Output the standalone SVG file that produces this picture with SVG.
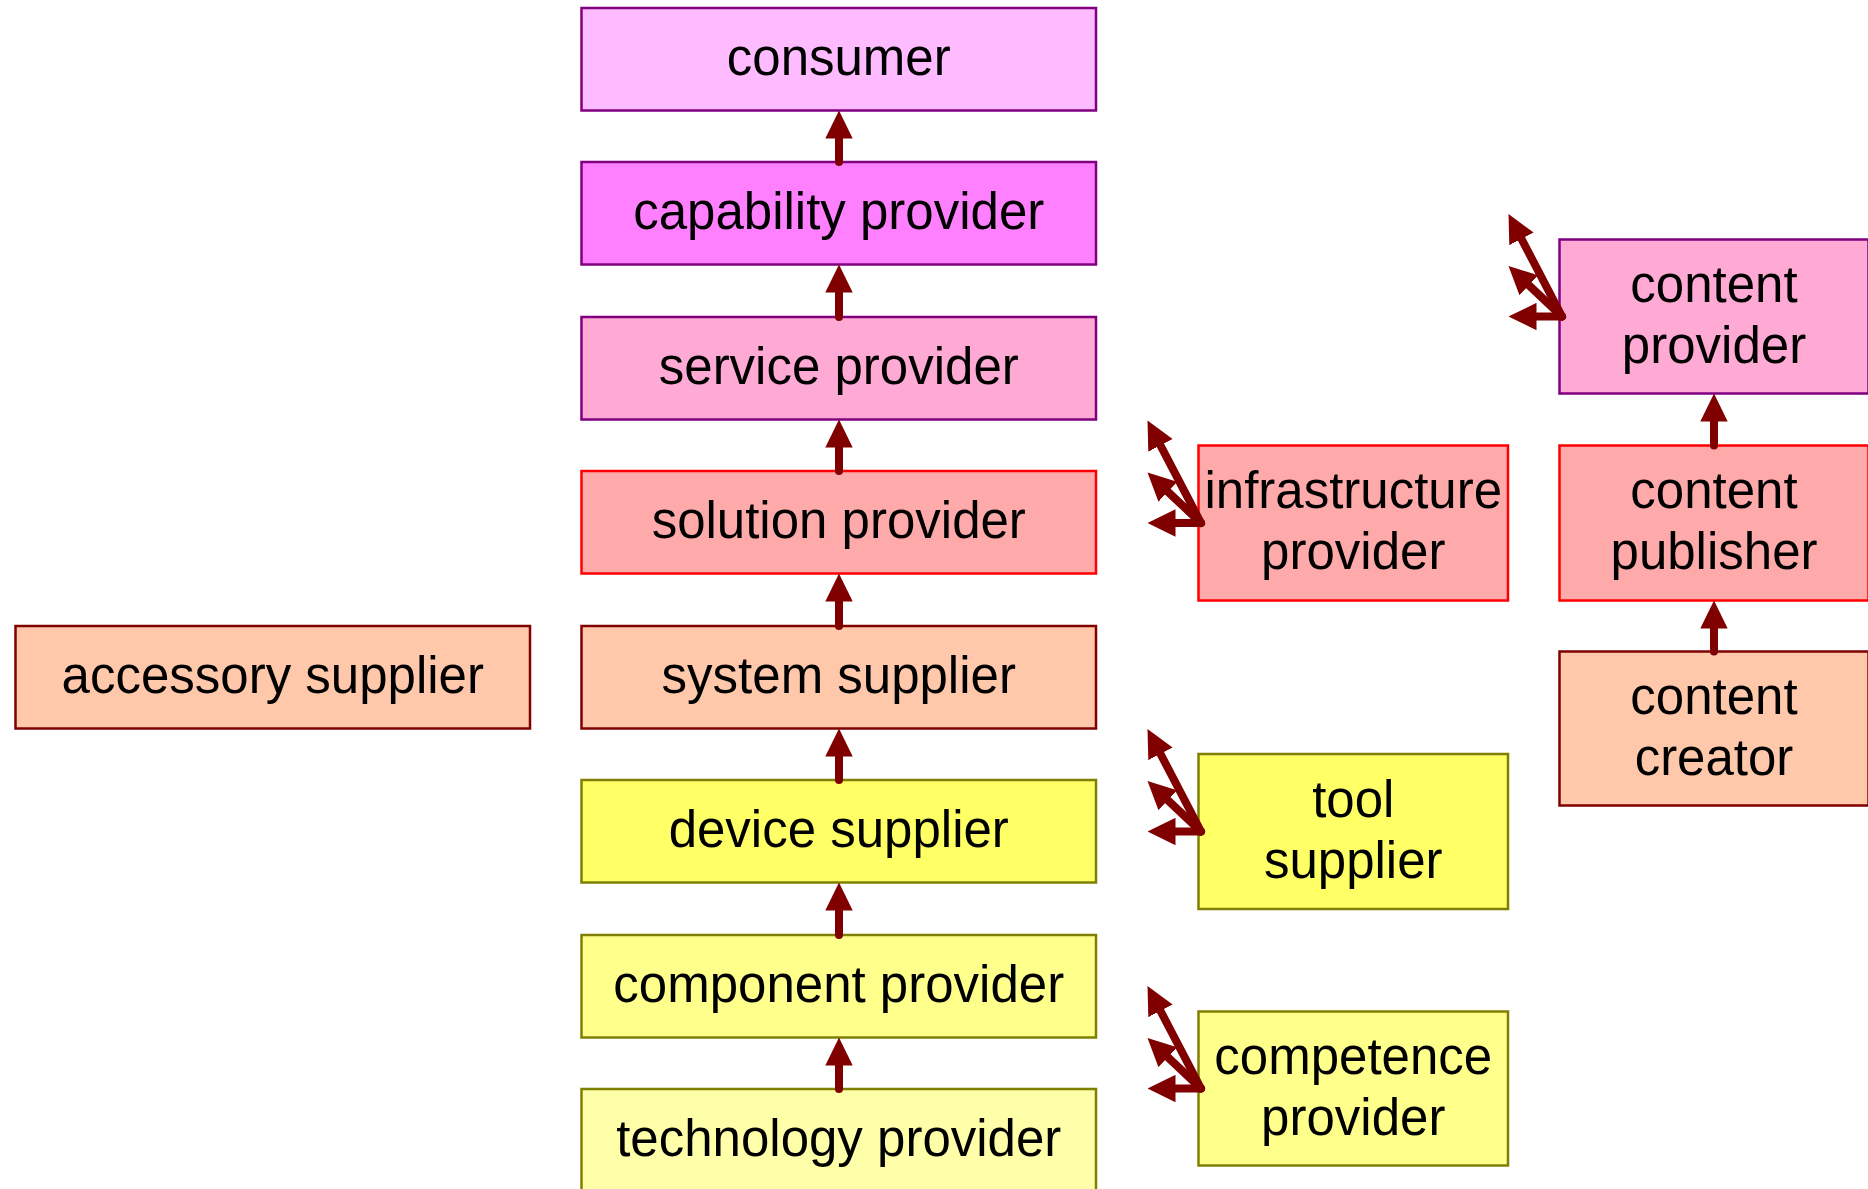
<svg xmlns="http://www.w3.org/2000/svg" width="1868" height="1189" viewBox="0 0 1868 1189">
<style>
.box{stroke-width:2.5}
.t{font-family:"Liberation Sans",Arial,sans-serif;font-size:51px;fill:#000;text-anchor:middle}
.pu{stroke:#800080}.rd{stroke:#FF0000}.dr{stroke:#800000}.ol{stroke:#808000}
.c1{fill:#FFBBFF}.c2{fill:#FF80FF}.c3{fill:#FFAAD5}.c4{fill:#FFAAAA}.c5{fill:#FFC8AA}.c6{fill:#FFFF66}.c7{fill:#FFFF8C}.c8{fill:#FFFFAA}
.ar{stroke:#800000;stroke-width:8;stroke-linecap:round;fill:none;marker-end:url(#ah)}
</style>
<defs>
<marker id="ah" markerUnits="userSpaceOnUse" viewBox="0 -14 28 28" refX="0" refY="0" markerWidth="28" markerHeight="28" orient="auto">
<path d="M0,-13.7 L28,0 L0,13.7 z" fill="#800000"/>
</marker>
</defs>
<rect width="1868" height="1189" fill="#fff"/>
<g id="consumer"><rect class="box c1 pu" x="581.5" y="8" width="514.5" height="102.5"/><text class="t" x="838.75" y="75">consumer</text></g>
<g id="capability-provider"><rect class="box c2 pu" x="581.5" y="162" width="514.5" height="102.5"/><text class="t" x="838.75" y="229">capability provider</text></g>
<g id="service-provider"><rect class="box c3 pu" x="581.5" y="317" width="514.5" height="102.5"/><text class="t" x="838.75" y="384">service provider</text></g>
<g id="solution-provider"><rect class="box c4 rd" x="581.5" y="471" width="514.5" height="102.5"/><text class="t" x="838.75" y="538">solution provider</text></g>
<g id="system-supplier"><rect class="box c5 dr" x="581.5" y="626" width="514.5" height="102.5"/><text class="t" x="838.75" y="693">system supplier</text></g>
<g id="device-supplier"><rect class="box c6 ol" x="581.5" y="780" width="514.5" height="102.5"/><text class="t" x="838.75" y="847">device supplier</text></g>
<g id="component-provider"><rect class="box c7 ol" x="581.5" y="935" width="514.5" height="102.5"/><text class="t" x="838.75" y="1002">component provider</text></g>
<g id="technology-provider"><rect class="box c8 ol" x="581.5" y="1089" width="514.5" height="102.5"/><text class="t" x="838.75" y="1156">technology provider</text></g>
<g id="accessory-supplier"><rect class="box c5 dr" x="15.5" y="626" width="514.5" height="102.5"/><text class="t" x="272.75" y="693">accessory supplier</text></g>
<g id="infrastructure-provider"><rect class="box c4 rd" x="1198.5" y="445.5" width="309.5" height="155"/><text class="t" x="1353.25" y="508">infrastructure</text><text class="t" x="1353.25" y="569">provider</text></g>
<g id="tool-supplier"><rect class="box c6 ol" x="1198.5" y="754" width="309.5" height="155"/><text class="t" x="1353.25" y="816.5">tool</text><text class="t" x="1353.25" y="877.5">supplier</text></g>
<g id="competence-provider"><rect class="box c7 ol" x="1198.5" y="1011.5" width="309.5" height="154"/><text class="t" x="1353.25" y="1073.5">competence</text><text class="t" x="1353.25" y="1134.5">provider</text></g>
<g id="content-provider"><rect class="box c3 pu" x="1559.5" y="239.5" width="309" height="154"/><text class="t" x="1714" y="301.5">content</text><text class="t" x="1714" y="362.5">provider</text></g>
<g id="content-publisher"><rect class="box c4 rd" x="1559.5" y="445.5" width="309" height="155"/><text class="t" x="1714" y="508">content</text><text class="t" x="1714" y="569">publisher</text></g>
<g id="content-creator"><rect class="box c5 dr" x="1559.5" y="651.5" width="309" height="154"/><text class="t" x="1714" y="713.5">content</text><text class="t" x="1714" y="774.5">creator</text></g>
<g id="connectors">
<line class="ar" x1="839" y1="162" x2="839" y2="138.5"/>
<line class="ar" x1="839" y1="317" x2="839" y2="292.5"/>
<line class="ar" x1="839" y1="471" x2="839" y2="447.5"/>
<line class="ar" x1="839" y1="626" x2="839" y2="601.5"/>
<line class="ar" x1="839" y1="780" x2="839" y2="756.5"/>
<line class="ar" x1="839" y1="935" x2="839" y2="910.5"/>
<line class="ar" x1="839" y1="1089" x2="839" y2="1065.5"/>
<line class="ar" x1="1714" y1="445.5" x2="1714" y2="421.5"/>
<line class="ar" x1="1714" y1="651.5" x2="1714" y2="628.5"/>
<line class="ar" x1="1562" y1="316.5" x2="1521.46" y2="238.83"/>
<line class="ar" x1="1562" y1="316.5" x2="1528.86" y2="285.22"/>
<line class="ar" x1="1562" y1="316.5" x2="1536.5" y2="316.5"/>
<line class="ar" x1="1201" y1="523" x2="1160.46" y2="445.33"/>
<line class="ar" x1="1201" y1="523" x2="1167.86" y2="491.72"/>
<line class="ar" x1="1201" y1="523" x2="1175.5" y2="523"/>
<line class="ar" x1="1201" y1="831.5" x2="1160.46" y2="753.83"/>
<line class="ar" x1="1201" y1="831.5" x2="1167.86" y2="800.22"/>
<line class="ar" x1="1201" y1="831.5" x2="1175.5" y2="831.5"/>
<line class="ar" x1="1201" y1="1088.5" x2="1160.46" y2="1010.83"/>
<line class="ar" x1="1201" y1="1088.5" x2="1167.86" y2="1057.22"/>
<line class="ar" x1="1201" y1="1088.5" x2="1175.5" y2="1088.5"/>
</g>
</svg>
